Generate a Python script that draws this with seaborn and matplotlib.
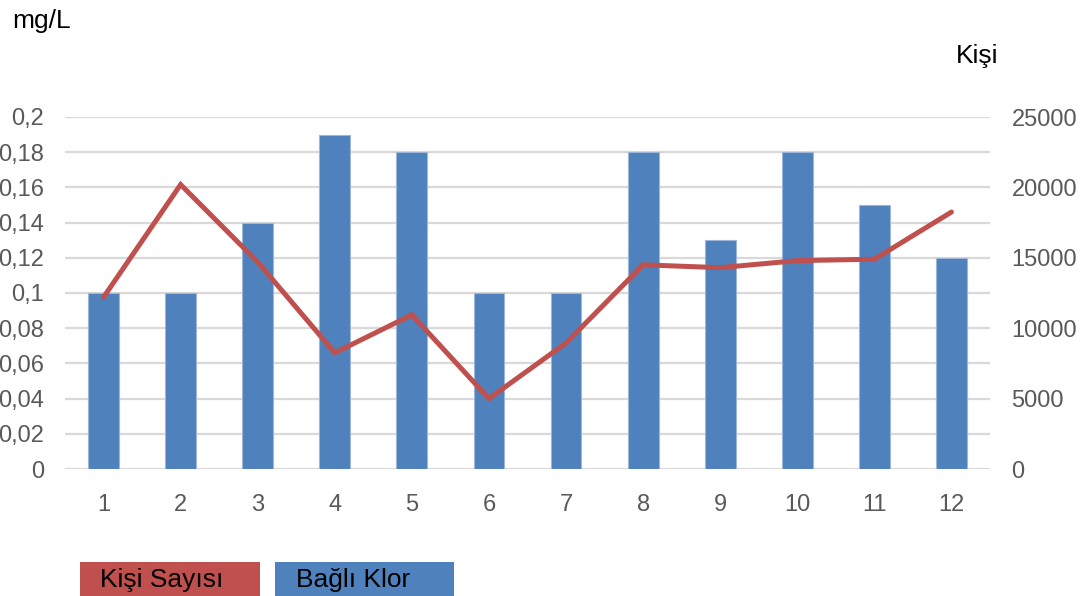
import numpy as np
import pandas as pd
import matplotlib
matplotlib.use("Agg")
import matplotlib.pyplot as plt
from matplotlib.patches import Rectangle
from matplotlib.ticker import FuncFormatter
import seaborn as sns

# -- veriler
aylar = ["1", "2", "3", "4", "5", "6", "7", "8", "9", "10", "11", "12"]
bagli_klor = [0.10, 0.10, 0.14, 0.19, 0.18, 0.10, 0.10, 0.18, 0.13, 0.18, 0.15, 0.12]
kisi_sayisi = [12200, 20200, 14700, 8250, 10950, 5000, 8950, 14500, 14300, 14800, 14900, 18250]

sns.set_style("white")
plt.rcParams['font.family'] = ['Liberation Sans', 'DejaVu Sans']

mavi = "#4F81BD"
kirmizi = "#C0504D"
gri = "#595959"
fs = 17
fs_baslik = 19

fig = plt.figure(figsize=(10.89, 5.96), dpi=100)
ax = fig.add_axes([65 / 1089, 1 - 469 / 596, 925 / 1089, 352 / 596])

df = pd.DataFrame({"ay": aylar, "klor": bagli_klor})
sns.barplot(data=df, x="ay", y="klor", color=mavi, width=0.4, saturation=1,
            edgecolor="#9DB7DA", linewidth=0.8, ax=ax, zorder=2)
ax.set_ylim(0, 0.2)
ax.set_yticks(np.arange(0, 0.2001, 0.02))
ax.yaxis.set_major_formatter(FuncFormatter(lambda v, p: "0" if v == 0 else f"{v:.2f}".rstrip("0").replace(".", ",")))
ax.set_xlim(-0.5, 11.5)
ax.grid(axis="y", color="#D9D9D9", linewidth=1.6, zorder=0)
ax.set_axisbelow(True)
ax.set_xlabel("")
ax.set_ylabel("")
for s in ax.spines.values():
    s.set_visible(False)
ax.tick_params(axis="both", length=0, labelsize=fs, colors=gri)
ax.tick_params(axis="y", pad=15)
ax.tick_params(axis="x", pad=18)

ax2 = ax.twinx()
sns.lineplot(x=np.arange(len(aylar)), y=kisi_sayisi, color=kirmizi, linewidth=3.6,
             ax=ax2, solid_capstyle="round", solid_joinstyle="miter")
ax2.set_ylim(0, 25000)
ax2.set_yticks(np.arange(0, 25001, 5000))
for s in ax2.spines.values():
    s.set_visible(False)
ax2.tick_params(axis="y", length=0, labelsize=fs, colors=gri, pad=15.5)
ax2.grid(False)

fig.text(12 / 1089, 1 - 28 / 596, "mg/L", fontsize=fs_baslik, color="black", va="baseline", ha="left")
fig.text(998 / 1089, 1 - 63 / 596, "Kişi", fontsize=fs_baslik, color="black", va="baseline", ha="right")

# -- alttaki gösterge
fig.add_artist(Rectangle((80 / 1089, 0), 180 / 1089, 34 / 596, transform=fig.transFigure,
                         facecolor=kirmizi, edgecolor="none"))
fig.add_artist(Rectangle((275 / 1089, 0), 179 / 1089, 34 / 596, transform=fig.transFigure,
                         facecolor=mavi, edgecolor="none"))
fig.text(100 / 1089, 1 - 587 / 596, "Kişi Sayısı", fontsize=fs_baslik, color="black", va="baseline")
fig.text(296 / 1089, 1 - 587 / 596, "Bağlı Klor", fontsize=fs_baslik, color="black", va="baseline")

fig.savefig("out.png", dpi=100)
